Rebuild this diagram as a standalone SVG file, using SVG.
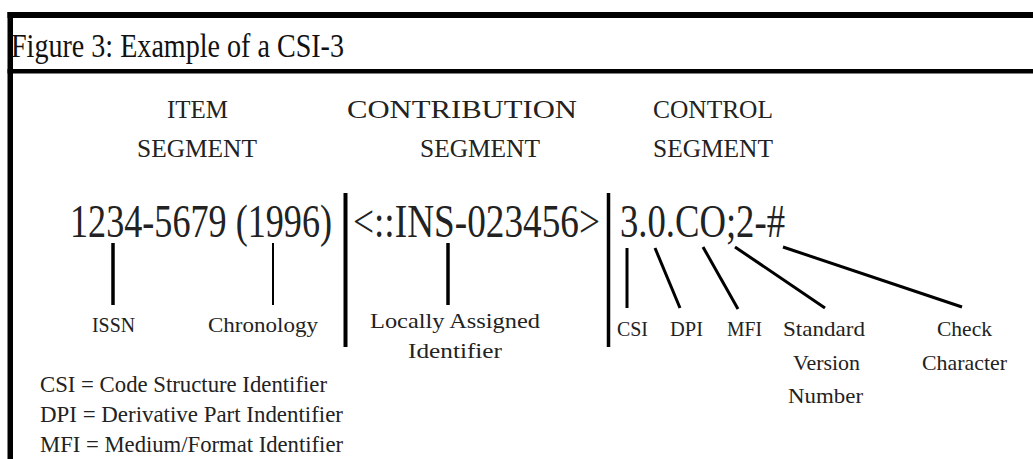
<svg xmlns="http://www.w3.org/2000/svg" width="1033" height="459" viewBox="0 0 1033 459">
<style>
text{font-family:"Liberation Serif","DejaVu Serif",serif;fill:#111}
.title{font-size:33px}
.head{font-size:26px;fill:#222}
.code{font-size:46px;fill:#222}
.lbl{font-size:22px;fill:#222}
.leg{font-size:24px;fill:#222}
.ln{stroke:#000;fill:none;stroke-linecap:butt}
</style>
<rect width="1033" height="459" fill="#fff"/>
<g id="frame">
<rect x="7.5" y="12" width="1026" height="6" fill="#000"/>
<rect x="7.5" y="12" width="5.5" height="447" fill="#000"/>
<rect x="7.5" y="69" width="1026" height="4.5" fill="#000"/>
</g>
<g id="title"><text class="title" x="11" y="57" textLength="333" lengthAdjust="spacingAndGlyphs">Figure 3: Example of a CSI-3</text></g>
<g id="item-segment">
<text class="head" x="167" y="118" textLength="61" lengthAdjust="spacingAndGlyphs">ITEM</text>
<text class="head" x="137" y="157" textLength="120" lengthAdjust="spacingAndGlyphs">SEGMENT</text>
</g>
<g id="contribution-segment">
<text class="head" x="347" y="118" textLength="230" lengthAdjust="spacingAndGlyphs">CONTRIBUTION</text>
<text class="head" x="420" y="157" textLength="120" lengthAdjust="spacingAndGlyphs">SEGMENT</text>
</g>
<g id="control-segment">
<text class="head" x="653" y="118" textLength="120" lengthAdjust="spacingAndGlyphs">CONTROL</text>
<text class="head" x="653" y="157" textLength="120" lengthAdjust="spacingAndGlyphs">SEGMENT</text>
</g>
<g id="item-code"><text class="code" transform="matrix(0.8 0 0 1 70 237)" x="0" y="0" textLength="327.5" lengthAdjust="spacingAndGlyphs">1234-5679 (1996)</text></g>
<g id="contribution-code"><text class="code" transform="matrix(0.8 0 0 1 353 237)" x="0" y="0" textLength="308.75" lengthAdjust="spacingAndGlyphs">&lt;::INS-023456&gt;</text></g>
<g id="control-code"><text class="code" transform="matrix(0.8 0 0 1 620 237)" x="0" y="0" textLength="206.25" lengthAdjust="spacingAndGlyphs">3.0.CO;2-#</text></g>
<g id="issn"><text class="lbl" x="92" y="332" textLength="43" lengthAdjust="spacingAndGlyphs">ISSN</text></g>
<g id="chronology"><text class="lbl" x="208" y="332" textLength="110" lengthAdjust="spacingAndGlyphs">Chronology</text></g>
<g id="local-id">
<text class="lbl" x="370" y="328" textLength="170" lengthAdjust="spacingAndGlyphs">Locally Assigned</text>
<text class="lbl" x="408" y="358" textLength="94" lengthAdjust="spacingAndGlyphs">Identifier</text>
</g>
<g id="csi"><text class="lbl" x="617" y="336" textLength="31" lengthAdjust="spacingAndGlyphs">CSI</text></g>
<g id="dpi"><text class="lbl" x="670" y="336" textLength="33" lengthAdjust="spacingAndGlyphs">DPI</text></g>
<g id="mfi"><text class="lbl" x="727" y="336" textLength="35" lengthAdjust="spacingAndGlyphs">MFI</text></g>
<g id="svn">
<text class="lbl" x="783" y="336" textLength="82" lengthAdjust="spacingAndGlyphs">Standard</text>
<text class="lbl" x="793" y="370" textLength="67" lengthAdjust="spacingAndGlyphs">Version</text>
<text class="lbl" x="788" y="403" textLength="75" lengthAdjust="spacingAndGlyphs">Number</text>
</g>
<g id="check">
<text class="lbl" x="937" y="336" textLength="55" lengthAdjust="spacingAndGlyphs">Check</text>
<text class="lbl" x="922" y="370" textLength="85" lengthAdjust="spacingAndGlyphs">Character</text>
</g>
<g id="legend">
<text class="leg" x="40" y="392" textLength="287" lengthAdjust="spacingAndGlyphs">CSI = Code Structure Identifier</text>
<text class="leg" x="40" y="422" textLength="303" lengthAdjust="spacingAndGlyphs">DPI = Derivative Part Indentifier</text>
<text class="leg" x="40" y="452" textLength="303" lengthAdjust="spacingAndGlyphs">MFI = Medium/Format Identifier</text>
</g>
<g id="connectors">
<line class="ln" x1="345.5" y1="193" x2="345.5" y2="347" stroke-width="4"/>
<line class="ln" x1="608.5" y1="193" x2="608.5" y2="347" stroke-width="3.5"/>
<line class="ln" x1="113" y1="243" x2="113" y2="305" stroke-width="3.5"/>
<line class="ln" x1="273" y1="243" x2="273" y2="305" stroke-width="2"/>
<line class="ln" x1="448" y1="243" x2="448" y2="305" stroke-width="3.5"/>
<line class="ln" x1="627" y1="248" x2="627" y2="308" stroke-width="3"/>
<line class="ln" x1="655" y1="248" x2="680" y2="308" stroke-width="3"/>
<line class="ln" x1="703" y1="247" x2="738" y2="309" stroke-width="3"/>
<line class="ln" x1="735" y1="247" x2="825" y2="308" stroke-width="3"/>
<line class="ln" x1="783" y1="247" x2="962" y2="307" stroke-width="3"/>
</g>
</svg>
